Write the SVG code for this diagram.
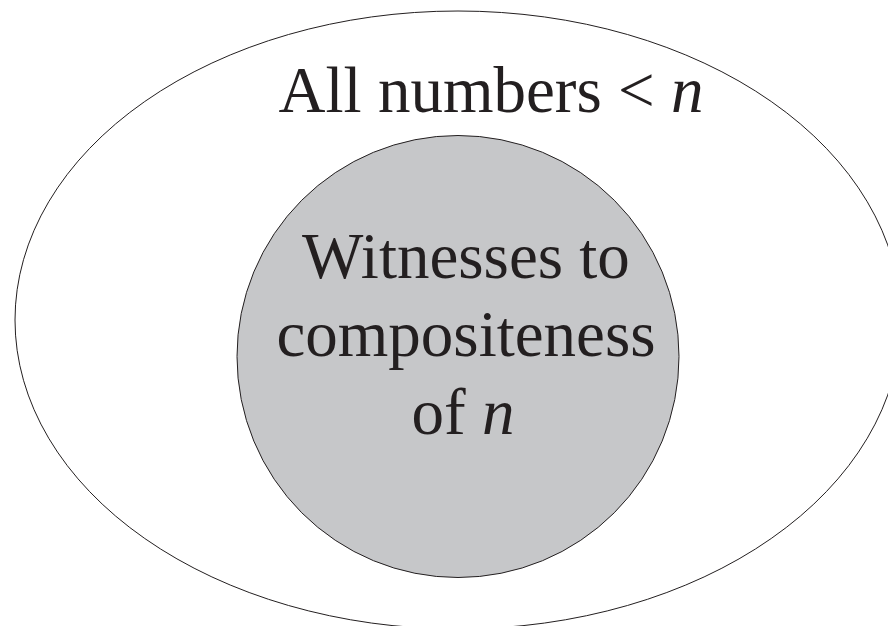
<svg xmlns="http://www.w3.org/2000/svg" width="888" height="626" viewBox="0 0 888 626">
<style>
.lbl{font-family:"Liberation Serif","Times New Roman",Times,serif;font-size:65px;fill:#231f20;text-anchor:middle}
.it{font-style:italic}
.shape{stroke:#231f20;stroke-width:1}
</style>
<rect width="888" height="626" fill="#ffffff"/>
<g id="all-numbers">
<ellipse class="shape" cx="458" cy="320" rx="443" ry="309" fill="#ffffff"/>
<text class="lbl" x="491" y="112">All numbers &lt; <tspan class="it">n</tspan></text>
</g>
<g id="witnesses">
<circle class="shape" cx="458" cy="356.5" r="221" fill="#c6c7c9"/>
<text class="lbl" x="466" y="278">Witnesses to</text>
<text class="lbl" x="466" y="356">compositeness</text>
<text class="lbl" x="463" y="434">of <tspan class="it">n</tspan></text>
</g>
<g id="connectors"/>
</svg>
